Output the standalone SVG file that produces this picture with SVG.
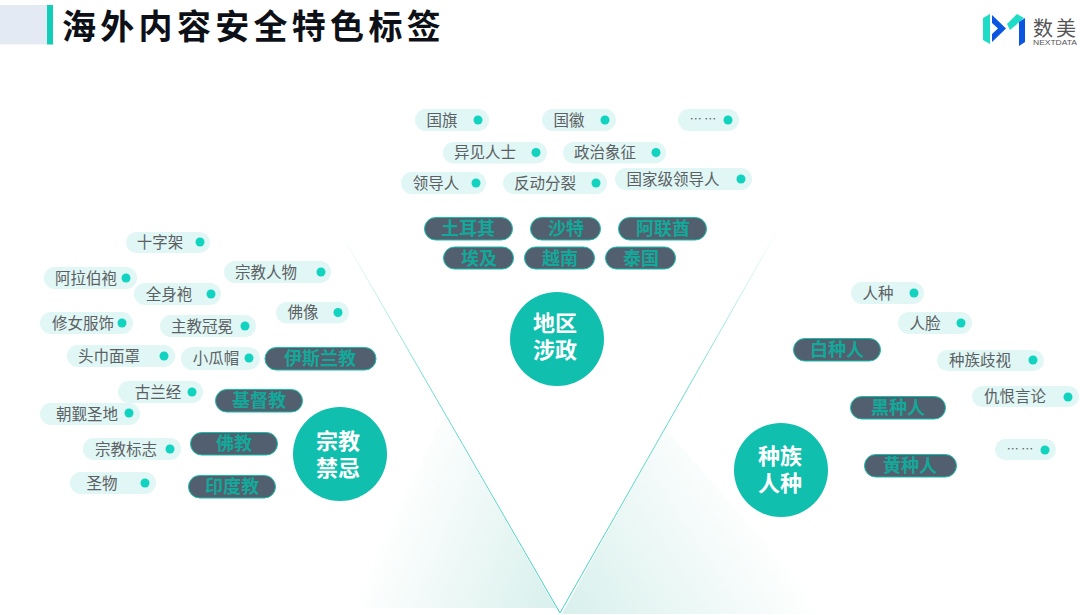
<svg xmlns="http://www.w3.org/2000/svg" width="1080" height="615" viewBox="0 0 1080 615">
<style>
text{font-family:"Noto Sans CJK SC","Noto Sans",sans-serif;text-anchor:middle}
.p{fill:#e0f7f5}
.d{fill:#12d3bf}
.t{font-size:15.5px;fill:#5c6063}
.e{font-size:12px;fill:#5c6063}
.k{fill:#525f6e;stroke:#14bfae;stroke-width:1}
.kt{font-size:18px;font-weight:700;fill:#13a99a}
.c{fill:#10bfae}
.ct{font-size:22px;font-weight:700;fill:#fff}
.title{font-size:34px;font-weight:700;fill:#0d1117;letter-spacing:4.3px;text-anchor:start}
</style>
<defs>
<linearGradient id="gl" gradientUnits="userSpaceOnUse" x1="556" y1="608" x2="378" y2="538"><stop offset="0" stop-color="#d8f0ec"/><stop offset="1" stop-color="#d8f0ec" stop-opacity="0"/></linearGradient>
<linearGradient id="gr" gradientUnits="userSpaceOnUse" x1="562" y1="614" x2="748" y2="494"><stop offset="0" stop-color="#d8f0ec"/><stop offset="1" stop-color="#d8f0ec" stop-opacity="0"/></linearGradient>
<linearGradient id="ll" gradientUnits="userSpaceOnUse" x1="560" y1="614" x2="339" y2="230"><stop offset="0" stop-color="#3fd0c0"/><stop offset=".6" stop-color="#6fdccf"/><stop offset="1" stop-color="#6fdccf" stop-opacity="0"/></linearGradient>
<linearGradient id="lr" gradientUnits="userSpaceOnUse" x1="560" y1="614" x2="780" y2="226"><stop offset="0" stop-color="#3fd0c0"/><stop offset=".6" stop-color="#6fdccf"/><stop offset="1" stop-color="#6fdccf" stop-opacity="0"/></linearGradient>
</defs>
<rect width="1080" height="615" fill="#fff"/>
<g id="header">
<rect x="0" y="5" width="47" height="39.500" fill="#e4eaf4"/>
<rect x="47" y="5" width="6" height="39.500" fill="#12cdb8"/>
<text class="title" x="62" y="39">海外内容安全特色标签</text>
</g>
<g id="logo">
<polygon points="983,18 990,14 990,44 983,40" fill="#1fdcc6"/>
<path d="M992,15 L1006,28.500 L992,42 Z M992,23 L992,34 L998,28.500 Z" fill="#0a56e0" fill-rule="evenodd"/>
<polygon points="1007,24 1017,14 1024,18 1010,30" fill="#1fdcc6"/>
<polygon points="1019,22 1025,18 1025,42 1019,46" fill="#0a56e0"/>
<text x="1056" y="36" style="font-size:20px;letter-spacing:3px;fill:#555">数美</text>
<text x="1055" y="45" textLength="44" lengthAdjust="spacingAndGlyphs" style="font-size:7.500px;fill:#555;font-family:'Liberation Sans',sans-serif">NEXTDATA</text>
</g>
<g id="connectors" fill="none">
<polygon points="556,608 345,608 445,416" fill="url(#gl)"/>
<polygon points="562,614 828,614 665,428" fill="url(#gr)"/>
<line x1="339" y1="230" x2="560" y2="613" stroke="url(#ll)" stroke-width="1"/>
<line x1="780" y1="226" x2="560" y2="613" stroke="url(#lr)" stroke-width="1"/>
</g>
<g id="hub-zz"><circle class="c" cx="557" cy="339" r="47"/><text class="ct" x="555" y="331">地区</text><text class="ct" x="555" y="358">涉政</text></g>
<g id="hub-zj"><circle class="c" cx="340" cy="454" r="47"/><text class="ct" x="338" y="449">宗教</text><text class="ct" x="338" y="476">禁忌</text></g>
<g id="hub-rz"><circle class="c" cx="781" cy="470" r="47"/><text class="ct" x="780" y="464">种族</text><text class="ct" x="780" y="491">人种</text></g>
<g id="n-guoqi"><rect class="p" x="415" y="109" width="74" height="22" rx="11"/><text class="t" x="442" y="125.500">国旗</text><circle class="d" cx="478" cy="120" r="4.500"/></g>
<g id="n-guohui"><rect class="p" x="542" y="109" width="74" height="22" rx="11"/><text class="t" x="569" y="125.500">国徽</text><circle class="d" cx="605" cy="120" r="4.500"/></g>
<g id="n-more1"><rect class="p" x="678" y="109" width="61" height="22" rx="11"/><text class="e" x="703" y="124">… …</text><circle class="d" cx="728" cy="120" r="4.500"/></g>
<g id="n-yijian"><rect class="p" x="443" y="142" width="104" height="21.500" rx="10.750"/><text class="t" x="485" y="158">异见人士</text><circle class="d" cx="536" cy="152.500" r="4.500"/></g>
<g id="n-zhengzhi"><rect class="p" x="563" y="142" width="103" height="21.500" rx="10.750"/><text class="t" x="605" y="158">政治象征</text><circle class="d" cx="656" cy="152.500" r="4.500"/></g>
<g id="n-lingdao"><rect class="p" x="401" y="172" width="85" height="22" rx="11"/><text class="t" x="436" y="188.500">领导人</text><circle class="d" cx="476" cy="183" r="4.500"/></g>
<g id="n-fandong"><rect class="p" x="503" y="172" width="104" height="22" rx="11"/><text class="t" x="545" y="188.500">反动分裂</text><circle class="d" cx="596" cy="183" r="4.500"/></g>
<g id="n-guojia"><rect class="p" x="615" y="168" width="137" height="22" rx="11"/><text class="t" x="673" y="184.500">国家级领导人</text><circle class="d" cx="741" cy="179" r="4.500"/></g>
<g id="c-tr"><rect class="k" x="424.500" y="217.500" width="88" height="22.500" rx="11.250"/><text class="kt" x="468" y="235">土耳其</text></g>
<g id="c-sa"><rect class="k" x="530.500" y="217.500" width="70" height="22.500" rx="11.250"/><text class="kt" x="566" y="235">沙特</text></g>
<g id="c-ae"><rect class="k" x="618.500" y="217.500" width="88" height="22.500" rx="11.250"/><text class="kt" x="663" y="235">阿联酋</text></g>
<g id="c-eg"><rect class="k" x="443.500" y="247" width="70" height="22" rx="11"/><text class="kt" x="479" y="264.500">埃及</text></g>
<g id="c-vn"><rect class="k" x="524.500" y="247" width="70" height="22" rx="11"/><text class="kt" x="560" y="264.500">越南</text></g>
<g id="c-th"><rect class="k" x="605.500" y="247" width="70" height="22" rx="11"/><text class="kt" x="641" y="264.500">泰国</text></g>
<g id="n-shizijia"><rect class="p" x="126" y="232" width="84" height="21" rx="10.500"/><text class="t" x="160" y="248">十字架</text><circle class="d" cx="200" cy="242" r="4.500"/></g>
<g id="n-alabo"><rect class="p" x="44" y="267" width="93" height="22" rx="11"/><text class="t" x="86" y="283.500">阿拉伯袍</text><circle class="d" cx="126" cy="278" r="4.500"/></g>
<g id="n-zjrw"><rect class="p" x="224" y="261" width="107" height="22" rx="11"/><text class="t" x="266" y="277.500">宗教人物</text><circle class="d" cx="321" cy="272" r="4.500"/></g>
<g id="n-quanshen"><rect class="p" x="134" y="283" width="87" height="22" rx="11"/><text class="t" x="169" y="299.500">全身袍</text><circle class="d" cx="211" cy="294" r="4.500"/></g>
<g id="n-foxiang"><rect class="p" x="276" y="302" width="73" height="21.500" rx="10.750"/><text class="t" x="303" y="318">佛像</text><circle class="d" cx="338" cy="312.500" r="4.500"/></g>
<g id="n-xiunv"><rect class="p" x="40" y="312" width="93" height="22" rx="11"/><text class="t" x="83" y="328.500">修女服饰</text><circle class="d" cx="122" cy="323" r="4.500"/></g>
<g id="n-zhujiao"><rect class="p" x="160" y="315" width="96" height="22" rx="11"/><text class="t" x="202" y="331.500">主教冠冕</text><circle class="d" cx="245" cy="326" r="4.500"/></g>
<g id="n-toujin"><rect class="p" x="67" y="345" width="108" height="22" rx="11"/><text class="t" x="109" y="361.500">头巾面罩</text><circle class="d" cx="164" cy="356" r="4.500"/></g>
<g id="n-xiaogua"><rect class="p" x="181" y="347" width="79" height="23" rx="11.500"/><text class="t" x="216" y="364">小瓜帽</text><circle class="d" cx="249" cy="358" r="4.500"/></g>
<g id="c-islam"><rect class="k" x="265" y="347.500" width="111" height="22.500" rx="11.250"/><text class="kt" x="320" y="365">伊斯兰教</text></g>
<g id="n-gulan"><rect class="p" x="118" y="381" width="85" height="22" rx="11"/><text class="t" x="158" y="397.500">古兰经</text><circle class="d" cx="192" cy="392" r="4.500"/></g>
<g id="n-chaojin"><rect class="p" x="40" y="403" width="100" height="22" rx="11"/><text class="t" x="87" y="419.500">朝觐圣地</text><circle class="d" cx="129" cy="413" r="4.500"/></g>
<g id="c-christ"><rect class="k" x="215.500" y="389.500" width="87" height="22.500" rx="11.250"/><text class="kt" x="259" y="407">基督教</text></g>
<g id="n-zjbz"><rect class="p" x="83" y="438" width="98" height="22" rx="11"/><text class="t" x="126" y="454.500">宗教标志</text><circle class="d" cx="170" cy="449" r="4.500"/></g>
<g id="c-buddh"><rect class="k" x="190.500" y="432.500" width="87" height="22.500" rx="11.250"/><text class="kt" x="234" y="450">佛教</text></g>
<g id="n-shengwu"><rect class="p" x="70" y="472" width="86" height="22" rx="11"/><text class="t" x="102" y="488.500">圣物</text><circle class="d" cx="145" cy="483" r="4.500"/></g>
<g id="c-hindu"><rect class="k" x="188.500" y="475.500" width="87" height="22.500" rx="11.250"/><text class="kt" x="232" y="493">印度教</text></g>
<g id="n-renzhong"><rect class="p" x="851" y="282" width="73" height="22" rx="11"/><text class="t" x="878" y="298.500">人种</text><circle class="d" cx="914" cy="293" r="4.500"/></g>
<g id="n-renlian"><rect class="p" x="898" y="312" width="74" height="22" rx="11"/><text class="t" x="925" y="328.500">人脸</text><circle class="d" cx="961" cy="323" r="4.500"/></g>
<g id="c-white"><rect class="k" x="793.500" y="338.500" width="87" height="22.500" rx="11.250"/><text class="kt" x="837" y="356">白种人</text></g>
<g id="n-qishi"><rect class="p" x="937" y="350" width="107" height="21" rx="10.500"/><text class="t" x="980" y="366">种族歧视</text><circle class="d" cx="1033" cy="360" r="4.500"/></g>
<g id="n-chouhen"><rect class="p" x="972" y="386" width="107" height="21" rx="10.500"/><text class="t" x="1015" y="402">仇恨言论</text><circle class="d" cx="1068" cy="397" r="4.500"/></g>
<g id="c-black"><rect class="k" x="850.500" y="396.500" width="95" height="22.500" rx="11.250"/><text class="kt" x="898" y="414">黑种人</text></g>
<g id="n-more2"><rect class="p" x="995" y="439" width="61" height="21" rx="10.500"/><text class="e" x="1020" y="454">… …</text><circle class="d" cx="1045" cy="450" r="4.500"/></g>
<g id="c-yellow"><rect class="k" x="864.500" y="454.500" width="92" height="22.500" rx="11.250"/><text class="kt" x="910" y="472">黄种人</text></g>
</svg>
